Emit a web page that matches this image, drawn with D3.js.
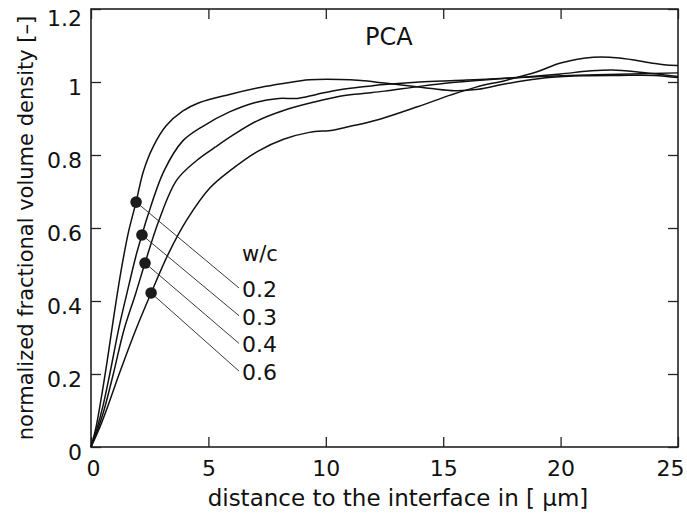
<!DOCTYPE html>
<html>
<head>
<meta charset="utf-8">
<script src="https://cdn.jsdelivr.net/npm/d3@7"></script>
<style>
  body { margin: 0; background: #fff; }
  text { font-family: "DejaVu Sans", sans-serif; fill: #111; }
</style>
</head>
<body>
<svg id="chart" width="687" height="514"></svg>
<script>
// tick values
var xTicks = [0, 5, 10, 15, 20, 25];
var yTicks = [0, 0.2, 0.4, 0.6, 0.8, 1, 1.2];

// w/c ratios (legend labels)
var ratios = ['0.2', '0.3', '0.4', '0.6'];

// normalized fractional volume density vs distance [um]
var w02 = [[0,0],[0.2,0.05],[0.4,0.12],[0.7,0.24],[1.0,0.37],[1.3,0.49],[1.6,0.59],[1.92,0.671],
  [2.23,0.755],[2.65,0.823],[3.2,0.88],[3.9,0.92],[4.6,0.943],[5.9,0.966],[7.2,0.985],[8.2,0.996],
  [9.3,1.006],[10.6,1.007],[11.5,1.004],[12.5,0.997],[13.5,0.99],[14.5,0.982],[15.5,0.976],
  [16.5,0.98],[17.5,0.993],[18.5,1.004],[19.5,1.012],[21,1.017],[22.5,1.018],[24,1.018],[25,1.012]];
var w03 = [[0,0],[0.25,0.05],[0.5,0.11],[0.8,0.2],[1.2,0.33],[1.6,0.44],[1.9,0.52],[2.17,0.581],
  [2.4,0.63],[3.1,0.755],[3.9,0.838],[4.8,0.88],[5.9,0.918],[7.0,0.944],[8.0,0.955],[8.8,0.955],
  [9.6,0.966],[10.6,0.979],[11.5,0.986],[12.5,0.993],[14,1.0],[15.5,1.004],[17,1.008],[18.5,1.014],
  [20,1.022],[21.2,1.03],[22.2,1.033],[23.5,1.026],[25,1.015]];
var w04 = [[0,0],[0.3,0.05],[0.55,0.1],[0.95,0.2],[1.4,0.32],[1.9,0.42],[2.3,0.504],[2.9,0.622],
  [3.65,0.731],[4.5,0.785],[5.3,0.822],[6.06,0.855],[7.06,0.893],[8.2,0.922],[9.5,0.945],
  [10.6,0.961],[11.5,0.968],[12.5,0.975],[14,0.988],[15.5,0.999],[17,1.007],[18.5,1.013],
  [20,1.017],[21.5,1.02],[23,1.022],[25,1.025]];
var w06 = [[0,0],[0.35,0.05],[0.65,0.1],[1.2,0.2],[1.9,0.32],[2.56,0.422],[3.3,0.53],[4.08,0.622],
  [5.07,0.71],[5.92,0.757],[7.1,0.81],[8.2,0.843],[9.3,0.862],[10.3,0.868],[11.0,0.878],
  [11.5,0.885],[12.4,0.9],[13.9,0.932],[15.3,0.964],[16.4,0.986],[17.7,1.005],[19.0,1.028],
  [20.0,1.052],[21.4,1.068],[22.5,1.066],[23.8,1.053],[24.4,1.047],[25,1.045]];

// marked points on each curve
var markers = [[1.92, 0.671], [2.17, 0.581], [2.30, 0.504], [2.56, 0.422]];

var curves = [w02, w03, w04, w06];

var svg = d3.select('#chart');
var plotLeft = 91, plotRight = 678, plotTop = 9, plotBottom = 447;

var x = d3.scaleLinear().domain([0, 25]).range([plotLeft, plotRight]);
var y = d3.scaleLinear().domain([0, 1.2]).range([plotBottom, plotTop]);

// inside ticks on all four sides
svg.append('g')
  .attr('transform', 'translate(0,' + plotBottom + ')')
  .call(d3.axisBottom(x).tickValues(xTicks).tickSizeInner(-10).tickSizeOuter(0).tickPadding(13))
  .call(function(g) {
    g.select('.domain').remove();
    g.selectAll('text').attr('font-size', 22).attr('font-family', null).attr('fill', '#111')
      .attr('text-anchor', function(d) { return d === 25 ? 'end' : 'middle'; })
      .attr('dx', function(d) { return d === 25 ? 6 : (d === 0 ? 2 : 0); });
  });

svg.append('g')
  .attr('transform', 'translate(' + plotLeft + ',0)')
  .call(d3.axisLeft(y).tickValues(yTicks).tickSizeInner(-10).tickSizeOuter(0).tickPadding(9)
    .tickFormat(function(d) { return d3.format('~g')(d); }))
  .call(function(g) {
    g.select('.domain').remove();
    g.selectAll('text').attr('font-size', 22).attr('font-family', null).attr('fill', '#111')
      .attr('dy', function(d) { return d === 1.2 ? '0.75em' : '0.55em'; });
  });

svg.append('g')
  .attr('transform', 'translate(0,' + plotTop + ')')
  .call(d3.axisTop(x).tickValues(xTicks).tickSizeInner(-10).tickSizeOuter(0).tickFormat(''))
  .call(function(g) { g.select('.domain').remove(); });

svg.append('g')
  .attr('transform', 'translate(' + plotRight + ',0)')
  .call(d3.axisRight(y).tickValues(yTicks).tickSizeInner(-10).tickSizeOuter(0).tickFormat(''))
  .call(function(g) { g.select('.domain').remove(); });

svg.selectAll('.tick line').attr('stroke', '#222').attr('stroke-width', 1.3);

// frame
svg.append('rect')
  .attr('x', plotLeft).attr('y', plotTop)
  .attr('width', plotRight - plotLeft).attr('height', plotBottom - plotTop)
  .attr('fill', 'none').attr('stroke', '#222').attr('stroke-width', 1.6);

// curves
var line = d3.line()
  .x(function(d) { return x(d[0]); })
  .y(function(d) { return y(d[1]); })
  .curve(d3.curveCatmullRom.alpha(0.5));

svg.append('g').selectAll('path')
  .data(curves)
  .enter()
  .append('path')
  .attr('d', line)
  .attr('fill', 'none')
  .attr('stroke', '#111')
  .attr('stroke-width', 1.5);

// legend: leader lines from each marker to its w/c label
var legendX = 242, legendY = 297, legendStep = 27.7;

svg.append('g').selectAll('line')
  .data(markers)
  .enter()
  .append('line')
  .attr('x1', function(d) { return x(d[0]); })
  .attr('y1', function(d) { return y(d[1]); })
  .attr('x2', legendX - 3)
  .attr('y2', function(d, i) { return legendY + i * legendStep - 9; })
  .attr('stroke', '#222')
  .attr('stroke-width', 0.9);

svg.append('g').selectAll('circle')
  .data(markers)
  .enter()
  .append('circle')
  .attr('cx', function(d) { return x(d[0]); })
  .attr('cy', function(d) { return y(d[1]); })
  .attr('r', 5.8)
  .attr('fill', '#1c1c1c');

svg.append('g').selectAll('text')
  .data(ratios)
  .enter()
  .append('text')
  .attr('x', legendX)
  .attr('y', function(d, i) { return legendY + i * legendStep; })
  .attr('font-size', 22)
  .text(function(d) { return d; });

svg.append('text')
  .attr('x', legendX).attr('y', 261)
  .attr('font-size', 21)
  .text('w/c');

svg.append('text')
  .attr('x', 365).attr('y', 45)
  .attr('font-size', 24)
  .text('PCA');

// axis titles
svg.append('text')
  .attr('x', 398).attr('y', 506)
  .attr('text-anchor', 'middle')
  .attr('font-size', 23)
  .text('distance to the interface in [ \u03bcm]');

svg.append('text')
  .attr('transform', 'translate(33,228) rotate(-90)')
  .attr('text-anchor', 'middle')
  .attr('font-size', 21)
  .text('normalized fractional volume density [\u2013]');
</script>
</body>
</html>
